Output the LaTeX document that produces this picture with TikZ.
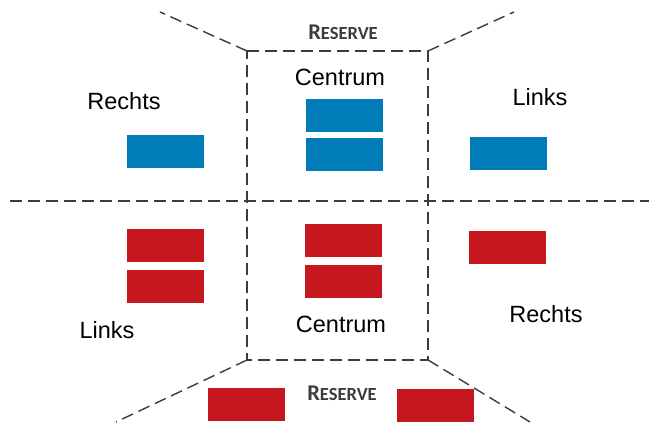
\documentclass[tikz,border=0pt]{standalone}
\usepackage{fontspec}
\setmainfont{Liberation Sans}
\newfontfamily\reservefont{Carlito}
\usepackage{xcolor}

\definecolor{spelerblauw}{RGB}{0,124,184}
\definecolor{spelerrood}{RGB}{198,22,30}
\definecolor{lijngrijs}{RGB}{60,60,60}

\newcommand{\reservetekst}{\reservefont\bfseries{\fontsize{22.5}{24}\selectfont R}{\fontsize{18.5}{20}\selectfont ESERVE}}

\begin{document}
\begin{tikzpicture}[
            x = 1pt, y = -1pt, % pixel grid, y down
            grens/.style = {draw=lijngrijs, line width=1.4pt, dash pattern=on 12pt off 6pt},
            blauw/.style = {shape=rectangle, fill=spelerblauw, minimum width=77pt, minimum height=33pt, inner sep=0pt},
            rood/.style = {shape=rectangle, fill=spelerrood, minimum width=77pt, minimum height=33pt, inner sep=0pt},
            label/.style = {font=\fontsize{23.5}{26}\selectfont, inner sep=0pt},
            reserve/.style = {text=lijngrijs, inner sep=0pt}
        ]
\useasboundingbox (0,0) rectangle (649,430);

% corners of the centre box and ends of the lines
\coordinate (LB) at (247,51);
\coordinate (RB) at (428,51);
\coordinate (LO) at (247,360);
\coordinate (RO) at (428,360);
\coordinate (LBe) at (160,12);
\coordinate (RBe) at (514,12);
\coordinate (LOe) at (116,422);
\coordinate (ROe) at (530,422);
\coordinate (Mw) at (10,201);
\coordinate (Mo) at (649,201);

\draw[grens] (LB) -- (RB) -- (RO) -- (LO) -- cycle;
\draw[grens] (LB) -- (LBe);
\draw[grens] (RB) -- (RBe);
\draw[grens] (LO) -- (LOe);
\draw[grens] (RO) -- (ROe);
\draw[grens] (Mw) -- (Mo);

% blue team
\node[blauw] (B_R) at (165.5,151.5) {};
\node[blauw] (B_C1) at (344.5,115.5) {};
\node[blauw] (B_C2) at (344.5,154.5) {};
\node[blauw] (B_L) at (508.5,153.5) {};

% red team
\node[rood] (R_L1) at (165.5,245.5) {};
\node[rood] (R_L2) at (165.5,287) {};
\node[rood] (R_C1) at (343.5,240.5) {};
\node[rood] (R_C2) at (343.5,281.5) {};
\node[rood] (R_R) at (507.5,247.5) {};
\node[rood] (R_res1) at (246,404.5) {};
\node[rood] (R_res2) at (435.5,406) {};

% labels
\node[reserve] (res_b) at (343,32) {\reservetekst};
\node[reserve] (res_o) at (342,393) {\reservetekst};
\node[label] (cen_b) at (340,77) {Centrum};
\node[label] (cen_o) at (341,324) {Centrum};
\node[label] (rechts_b) at (124,101) {Rechts};
\node[label] (links_b) at (540,97) {Links};
\node[label] (links_o) at (107,330) {Links};
\node[label] (rechts_o) at (546,314) {Rechts};
\end{tikzpicture}
\end{document}
